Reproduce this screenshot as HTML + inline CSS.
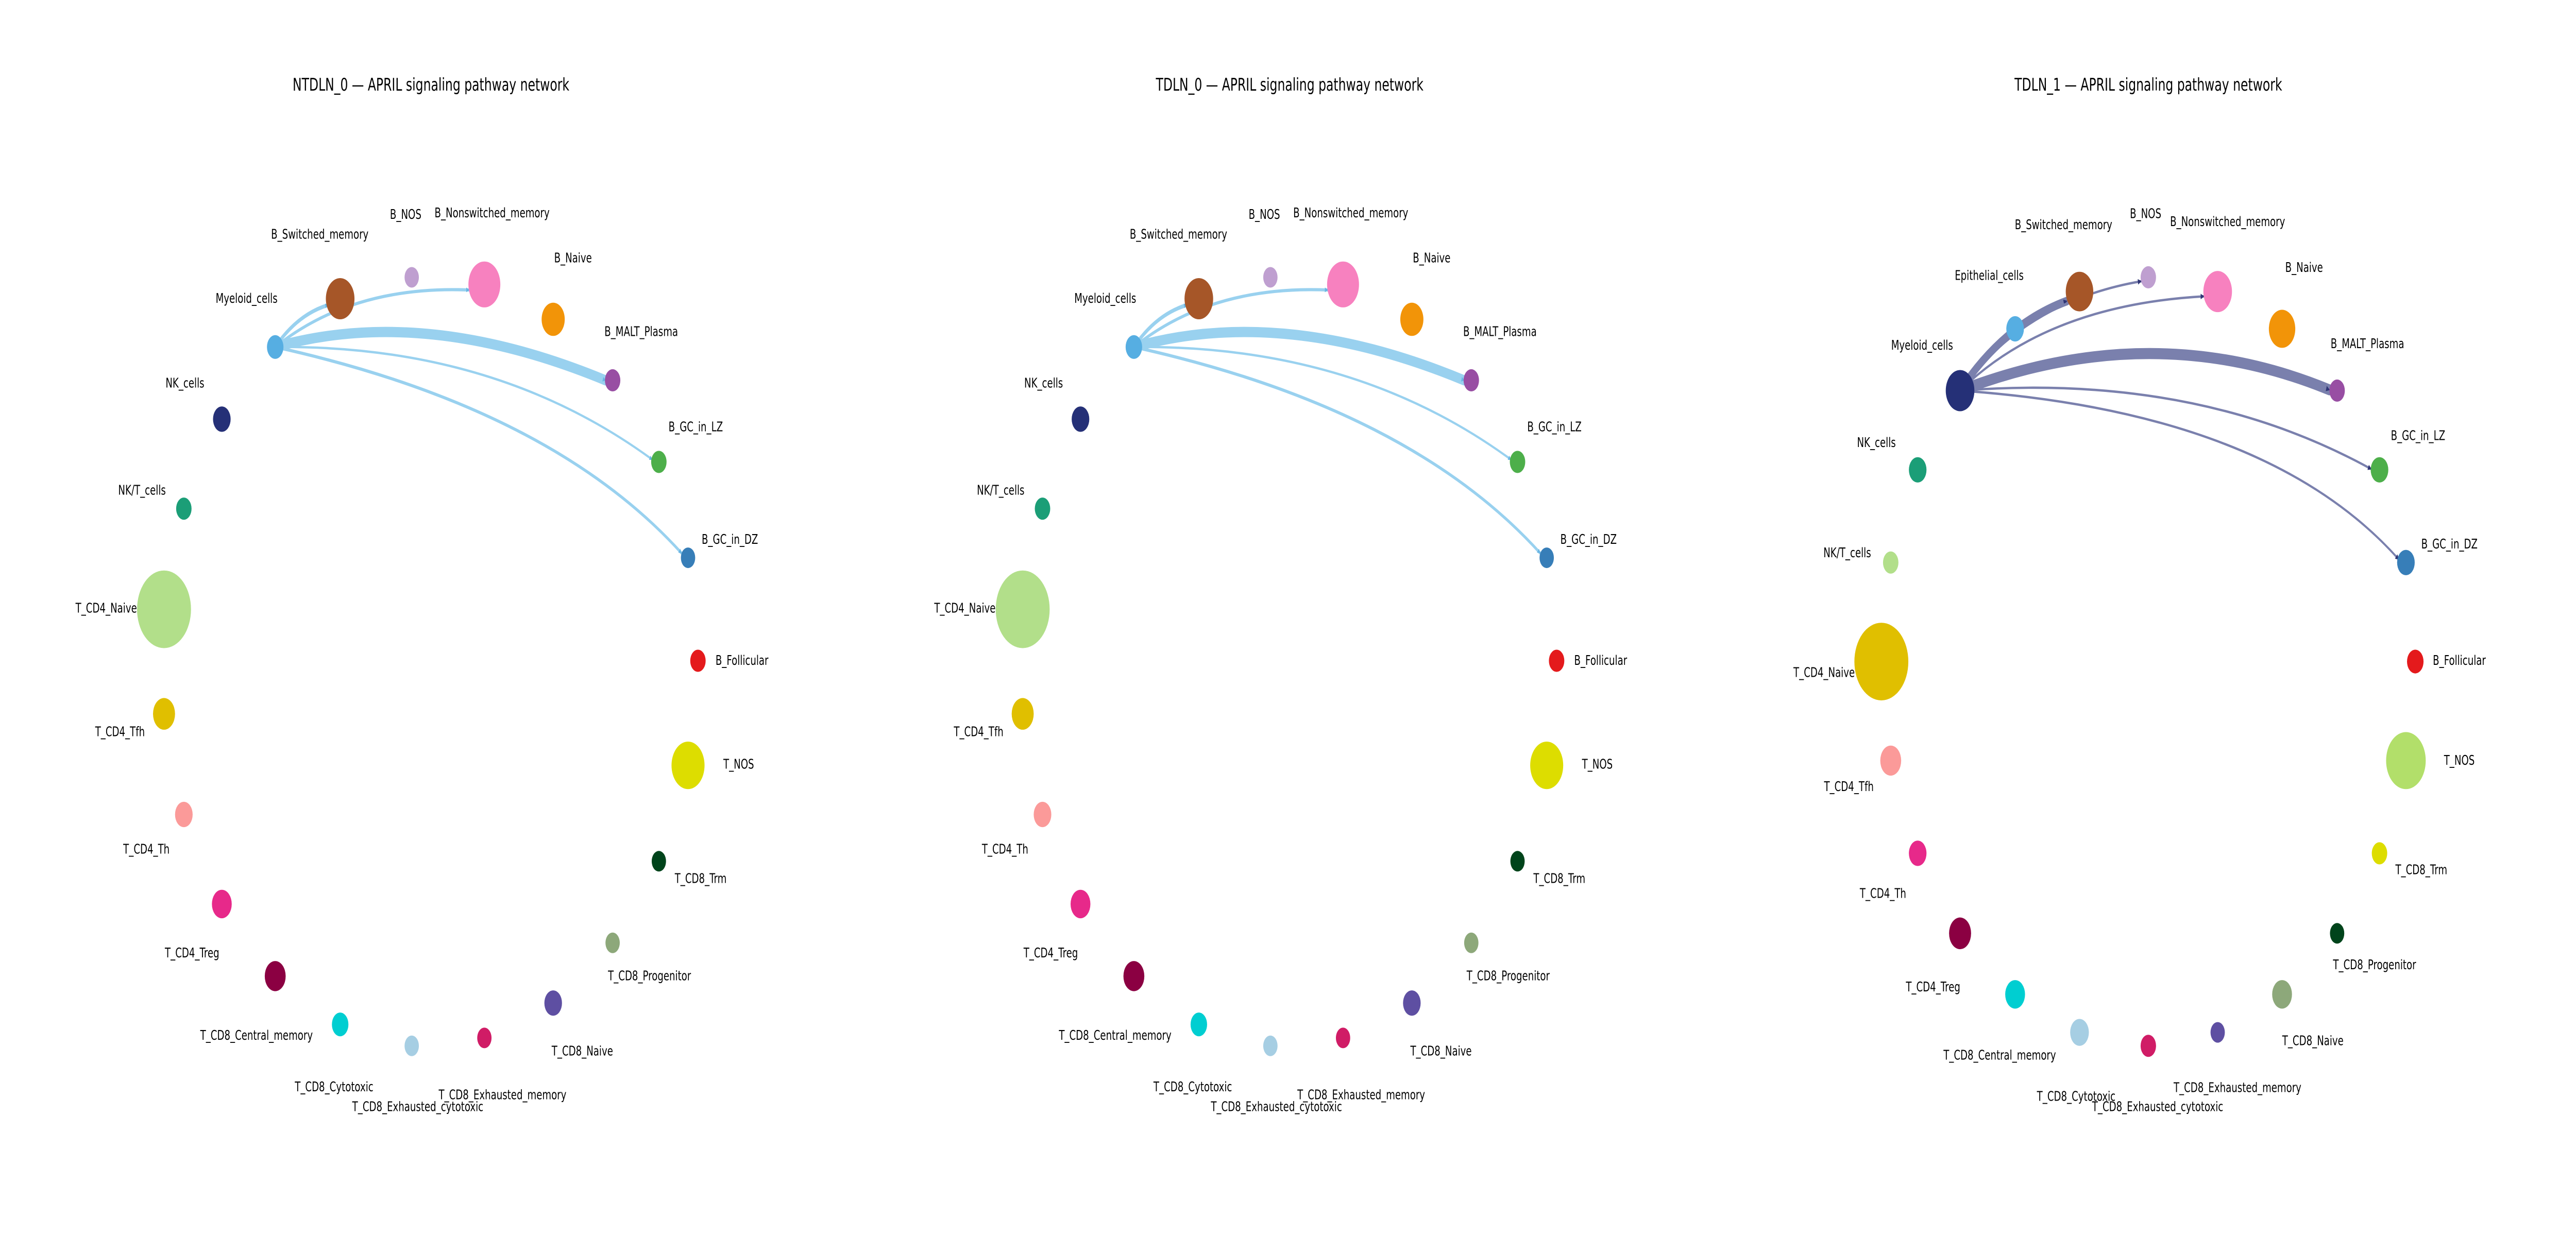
<!DOCTYPE html>
<html><head><meta charset="utf-8"><style>
html,body{margin:0;padding:0;background:#fff;width:100%;height:100%;overflow:hidden}
svg.main{display:block;width:100vw;height:100vh}
text{font-family:"DejaVu Sans","Liberation Sans",sans-serif;font-size:17px;fill:#000;text-anchor:middle;dominant-baseline:central}
text.t{font-size:22px}
</style></head><body>
<svg class="main" viewBox="0 0 4680 1560" preserveAspectRatio="none">
<defs>
<marker id="a1" markerWidth="6" markerHeight="6" refX="5" refY="3" orient="auto" markerUnits="userSpaceOnUse"><path d="M0,0 L6,3 L0,6z" fill="#5aaee0"/></marker>
<marker id="a3" markerWidth="7" markerHeight="7" refX="6" refY="3.5" orient="auto" markerUnits="userSpaceOnUse"><path d="M0,0 L7,3.5 L0,7z" fill="#2f3575"/></marker>
<g id="net0">
<g fill="none" stroke="#8ecdee" stroke-linecap="round" opacity="0.9">
<path d="M500,438 Q540,397 596,385" stroke-width="5" marker-end="url(#a1)"/>
<path d="M500,438 Q640,360 852,366" stroke-width="4" marker-end="url(#a1)"/>
<path d="M500,438 Q770,385 1100,480" stroke-width="13" marker-end="url(#a1)"/>
<path d="M500,438 Q900,435 1185,580" stroke-width="3" marker-end="url(#a1)"/>
<path d="M500,438 Q1000,515 1238,698" stroke-width="4" marker-end="url(#a1)"/>
</g>
<circle cx="500" cy="438" r="15" fill="#56aee2"/>
<circle cx="618" cy="377" r="26" fill="#a65628"/>
<circle cx="748" cy="350" r="13" fill="#bf9fd0"/>
<circle cx="880" cy="359" r="29" fill="#f781bf"/>
<circle cx="1005" cy="403" r="21" fill="#f29408"/>
<circle cx="1113" cy="480" r="14" fill="#984ea3"/>
<circle cx="1197" cy="583" r="14" fill="#4daf4a"/>
<circle cx="1250" cy="704" r="13" fill="#377eb8"/>
<circle cx="1268" cy="834" r="14" fill="#e41a1c"/>
<circle cx="1250" cy="966" r="30" fill="#dddd00"/>
<circle cx="1197" cy="1087" r="13" fill="#00441b"/>
<circle cx="1113" cy="1190" r="13" fill="#8da87a"/>
<circle cx="1005" cy="1266" r="16" fill="#5e4fa2"/>
<circle cx="880" cy="1310" r="13" fill="#d01c66"/>
<circle cx="748" cy="1320" r="13" fill="#a6cee3"/>
<circle cx="618" cy="1293" r="15" fill="#00ced1"/>
<circle cx="500" cy="1232" r="19" fill="#8b0042"/>
<circle cx="403" cy="1141" r="18" fill="#e7298a"/>
<circle cx="334" cy="1028" r="16" fill="#fb9a99"/>
<circle cx="298" cy="901" r="20" fill="#e0bf00"/>
<circle cx="298" cy="769" r="49" fill="#b2df8a"/>
<circle cx="334" cy="642" r="14" fill="#1b9e77"/>
<circle cx="403" cy="529" r="16" fill="#253077"/>
</g>
</defs>

<g>
<use href="#net0"/>
<text class="t" x="783" y="107">NTDLN_0 — APRIL signaling pathway network</text>
<text x="448" y="377">Myeloid_cells</text>
<text x="581" y="296">B_Switched_memory</text>
<text x="737" y="271">B_NOS</text>
<text x="894" y="269">B_Nonswitched_memory</text>
<text x="1041" y="326">B_Naive</text>
<text x="1165" y="419">B_MALT_Plasma</text>
<text x="1264" y="539">B_GC_in_LZ</text>
<text x="1326" y="681">B_GC_in_DZ</text>
<text x="1348" y="834">B_Follicular</text>
<text x="1342" y="965">T_NOS</text>
<text x="1273" y="1109">T_CD8_Trm</text>
<text x="1180" y="1232">T_CD8_Progenitor</text>
<text x="1058" y="1327">T_CD8_Naive</text>
<text x="913" y="1382">T_CD8_Exhausted_memory</text>
<text x="759" y="1397">T_CD8_Exhausted_cytotoxic</text>
<text x="607" y="1372">T_CD8_Cytotoxic</text>
<text x="466" y="1307">T_CD8_Central_memory</text>
<text x="349" y="1203">T_CD4_Treg</text>
<text x="266" y="1072">T_CD4_Th</text>
<text x="218" y="924">T_CD4_Tfh</text>
<text x="193" y="768">T_CD4_Naive</text>
<text x="258" y="619">NK/T_cells</text>
<text x="336" y="484">NK_cells</text>
</g>

<g transform="translate(1560,0)">
<use href="#net0"/>
<text class="t" x="783" y="107">TDLN_0 — APRIL signaling pathway network</text>
<text x="448" y="377">Myeloid_cells</text>
<text x="581" y="296">B_Switched_memory</text>
<text x="737" y="271">B_NOS</text>
<text x="894" y="269">B_Nonswitched_memory</text>
<text x="1041" y="326">B_Naive</text>
<text x="1165" y="419">B_MALT_Plasma</text>
<text x="1264" y="539">B_GC_in_LZ</text>
<text x="1326" y="681">B_GC_in_DZ</text>
<text x="1348" y="834">B_Follicular</text>
<text x="1342" y="965">T_NOS</text>
<text x="1273" y="1109">T_CD8_Trm</text>
<text x="1180" y="1232">T_CD8_Progenitor</text>
<text x="1058" y="1327">T_CD8_Naive</text>
<text x="913" y="1382">T_CD8_Exhausted_memory</text>
<text x="759" y="1397">T_CD8_Exhausted_cytotoxic</text>
<text x="607" y="1372">T_CD8_Cytotoxic</text>
<text x="466" y="1307">T_CD8_Central_memory</text>
<text x="349" y="1203">T_CD4_Treg</text>
<text x="266" y="1072">T_CD4_Th</text>
<text x="218" y="924">T_CD4_Tfh</text>
<text x="193" y="768">T_CD4_Naive</text>
<text x="258" y="619">NK/T_cells</text>
<text x="336" y="484">NK_cells</text>
</g>

<g transform="translate(3120,0)">
<text class="t" x="783" y="107">TDLN_1 — APRIL signaling pathway network</text>
<g fill="none" stroke="#7a80ad" stroke-linecap="round">
<path d="M441,493 Q520,410 635,380" stroke-width="11" marker-end="url(#a3)"/>
<path d="M441,493 Q560,380 770,355" stroke-width="3" marker-end="url(#a3)"/>
<path d="M441,493 Q600,385 884,374" stroke-width="3" marker-end="url(#a3)"/>
<path d="M441,493 Q790,400 1112,492" stroke-width="14" marker-end="url(#a3)"/>
<path d="M441,493 Q870,470 1188,592" stroke-width="3" marker-end="url(#a3)"/>
<path d="M441,493 Q1000,520 1238,706" stroke-width="3" marker-end="url(#a3)"/>
</g>
<circle cx="441" cy="493" r="26" fill="#253077"/>
<circle cx="541" cy="415" r="16" fill="#56aee2"/>
<circle cx="658" cy="368" r="25" fill="#a65628"/>
<circle cx="783" cy="350" r="14" fill="#bf9fd0"/>
<circle cx="909" cy="368" r="26" fill="#f781bf"/>
<circle cx="1026" cy="415" r="24" fill="#f29408"/>
<circle cx="1126" cy="493" r="14" fill="#984ea3"/>
<circle cx="1203" cy="593" r="16" fill="#4daf4a"/>
<circle cx="1251" cy="710" r="16" fill="#377eb8"/>
<circle cx="1268" cy="835" r="15" fill="#e41a1c"/>
<circle cx="1251" cy="960" r="36" fill="#b2df6a"/>
<circle cx="1203" cy="1077" r="14" fill="#dddd00"/>
<circle cx="1126" cy="1178" r="13" fill="#00441b"/>
<circle cx="1026" cy="1255" r="18" fill="#8da87a"/>
<circle cx="909" cy="1303" r="13" fill="#5e4fa2"/>
<circle cx="783" cy="1320" r="14" fill="#d01c66"/>
<circle cx="658" cy="1303" r="17" fill="#a6cee3"/>
<circle cx="541" cy="1255" r="18" fill="#00ced1"/>
<circle cx="441" cy="1178" r="20" fill="#8b0042"/>
<circle cx="364" cy="1077" r="16" fill="#e7298a"/>
<circle cx="315" cy="960" r="19" fill="#fb9a99"/>
<circle cx="298" cy="835" r="49" fill="#e0bf00"/>
<circle cx="315" cy="710" r="14" fill="#b2df8a"/>
<circle cx="364" cy="593" r="16" fill="#1b9e77"/>
<text x="494" y="348">Epithelial_cells</text>
<text x="372" y="436">Myeloid_cells</text>
<text x="629" y="284">B_Switched_memory</text>
<text x="778" y="270">B_NOS</text>
<text x="927" y="280">B_Nonswitched_memory</text>
<text x="1066" y="338">B_Naive</text>
<text x="1181" y="434">B_MALT_Plasma</text>
<text x="1273" y="550">B_GC_in_LZ</text>
<text x="1330" y="687">B_GC_in_DZ</text>
<text x="1348" y="834">B_Follicular</text>
<text x="1348" y="960">T_NOS</text>
<text x="1279" y="1098">T_CD8_Trm</text>
<text x="1194" y="1218">T_CD8_Progenitor</text>
<text x="1082" y="1314">T_CD8_Naive</text>
<text x="945" y="1373">T_CD8_Exhausted_memory</text>
<text x="800" y="1397">T_CD8_Exhausted_cytotoxic</text>
<text x="652" y="1384">T_CD8_Cytotoxic</text>
<text x="513" y="1332">T_CD8_Central_memory</text>
<text x="392" y="1246">T_CD4_Treg</text>
<text x="301" y="1128">T_CD4_Th</text>
<text x="239" y="993">T_CD4_Tfh</text>
<text x="194" y="849">T_CD4_Naive</text>
<text x="236" y="698">NK/T_cells</text>
<text x="289" y="559">NK_cells</text>
</g>
</svg>
</body></html>
